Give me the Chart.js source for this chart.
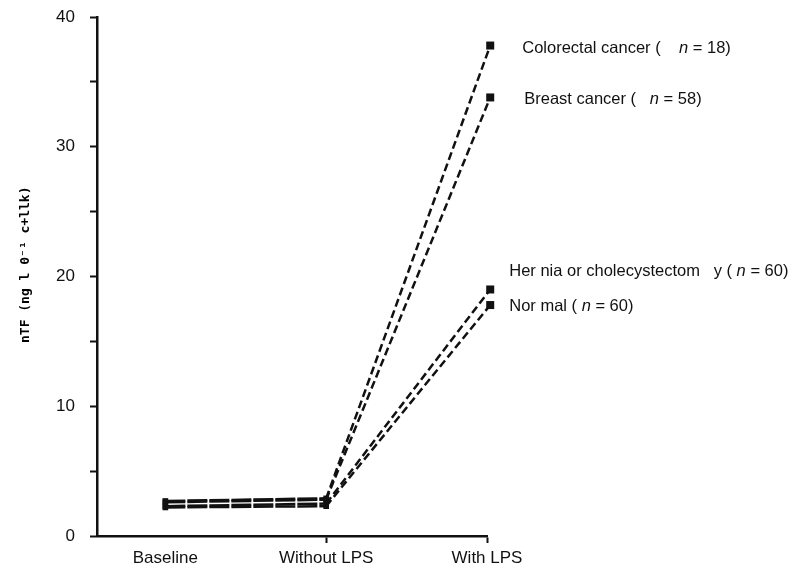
<!DOCTYPE html>
<html>
<head>
<meta charset="utf-8">
<script src="https://cdn.jsdelivr.net/npm/chart.js@4/dist/chart.umd.min.js"></script>
<style>
  html, body { margin: 0; padding: 0; background: #fff; }
  #wrap { width: 796px; height: 568px; }
</style>
</head>
<body>
<div id="wrap"><canvas id="tnfChart"></canvas></div>
<script>
// categories and where each condition sits on the x scale
const categories = ['Baseline', 'Without LPS', 'With LPS'];
const pointX = [0, 1, 2.02];

// series
const seriesNames = ['Colorectal cancer', 'Breast cancer', 'Her nia or cholecystectom   y', 'Nor mal'];
const seriesN = [18, 58, 60, 60];
const colorectal = [2.7, 2.9, 37.8];
const breast = [2.6, 2.8, 33.8];
const hernia = [2.3, 2.5, 19.0];
const normal = [2.2, 2.3, 17.8];

// y ticks
const yTicks = [0, 10, 20, 30, 40];

// label offsets from the last point (style only)
const labelOffsets = [[32, 3], [34, 2], [19, -18], [19, 1]];
const nameGaps = ['    ', '   ', ' ', ' '];

const allSeries = [colorectal, breast, hernia, normal];
const labelFont = '"Liberation Sans", Arial';

const endLabels = {
    id: 'endLabels',
    afterDatasetsDraw(chart) {
        const c = chart.ctx;
        c.save();
        c.fillStyle = '#111';
        c.textBaseline = 'middle';
        chart.data.datasets.forEach((ds, i) => {
            const pts = chart.getDatasetMeta(i).data;
            const p = pts[pts.length - 1];
            // end marker (may sit just past the plot area, so drawn here)
            c.fillRect(p.x - 4, p.y - 4, 8, 8);
            let x = p.x + labelOffsets[i][0];
            const y = p.y + labelOffsets[i][1];
            const parts = [
                [seriesNames[i] + ' (' + nameGaps[i], '16.5px ' + labelFont],
                ['n', 'italic 16.5px ' + labelFont],
                [' = ' + seriesN[i] + ')', '16.5px ' + labelFont]
            ];
            parts.forEach(([t, f]) => {
                c.font = f;
                c.fillText(t, x, y);
                x += c.measureText(t).width;
            });
        });
        c.restore();
    }
};

const ctx = document.getElementById('tnfChart');

new Chart(ctx, {
    type: 'line',
    data: {
        datasets: allSeries.map((vals, i) => ({
            label: seriesNames[i],
            data: vals.map((v, j) => ({ x: pointX[j], y: v })),
            borderColor: '#111',
            backgroundColor: '#111',
            borderWidth: 2.5,
            borderDash: [8, 4],
            segment: { borderDash: (s) => s.p0DataIndex === 0 ? [20, 2] : undefined },
            pointStyle: 'rect',
            pointRadius: 4,
            pointBorderWidth: 0,
            fill: false,
            tension: 0,
            clip: false
        }))
    },
    options: {
        responsive: true,
        maintainAspectRatio: false,
        animation: false,
        layout: { padding: { top: 17, right: 309, left: 0, bottom: 0 } },
        plugins: { legend: { display: false }, tooltip: { enabled: false } },
        scales: {
            x: {
                type: 'linear',
                min: -0.425,
                max: 2,
                afterBuildTicks: (s) => { s.ticks = categories.map((c, i) => ({ value: i })); },
                afterFit: (s) => { s.height = 32; },
                ticks: {
                    color: '#111',
                    font: { family: labelFont, size: 17 },
                    padding: 5,
                    maxRotation: 0,
                    autoSkip: false,
                    callback: (v) => categories[v]
                },
                grid: {
                    drawOnChartArea: false,
                    tickLength: 7,
                    tickWidth: 2,
                    tickColor: (c) => c.index === 0 ? 'rgba(0,0,0,0)' : '#111'
                },
                border: { color: '#111', width: 2.5 }
            },
            y: {
                min: 0,
                max: 40,
                afterFit: (s) => { s.width = 97; s.paddingTop = 0; s.paddingBottom = 0; },
                ticks: {
                    stepSize: 5,
                    color: '#111',
                    font: { family: labelFont, size: 17 },
                    padding: 15,
                    callback: (v) => yTicks.includes(v) ? v : ''
                },
                grid: { drawOnChartArea: false, tickLength: 7, tickWidth: 2, tickColor: '#111' },
                border: { color: '#111', width: 2.5 },
                title: {
                    display: true,
                    text: '   nTF (ng l 0⁻¹ c+llk)',
                    color: '#000',
                    font: { family: '"DejaVu Sans Mono", monospace', size: 13, weight: 'bold' },
                    padding: { top: 18, bottom: 0 }
                }
            }
        }
    },
    plugins: [endLabels]
});
</script>
</body>
</html>
